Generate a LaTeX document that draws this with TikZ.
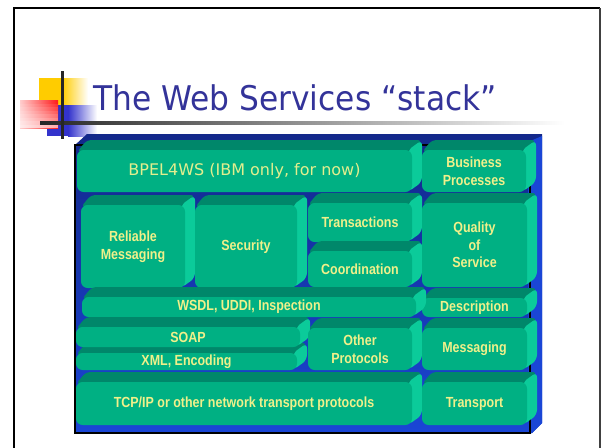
\documentclass[tikz,border=0pt]{standalone}
\usepackage{fontspec}
\setmainfont{DejaVu Sans}
\newfontfamily\lblfont[FakeStretch=0.85]{Liberation Sans}
\newfontfamily\ttlfont[FakeStretch=0.92]{DejaVu Sans}
\usetikzlibrary{fit}
\definecolor{frontc}{HTML}{00B083}
\definecolor{topc}{HTML}{00876A}
\definecolor{sidec}{HTML}{0BCB9A}
\definecolor{yell}{HTML}{F0F08A}
\definecolor{bpelc}{HTML}{E2EE8E}
\definecolor{navy}{HTML}{13288A}
\definecolor{brblue}{HTML}{1A46D6}
\definecolor{ttlc}{HTML}{333399}
\definecolor{logoyel}{HTML}{FFCC00}
\definecolor{logored}{HTML}{FF1A1A}
\definecolor{logoblu}{HTML}{3333CC}
\tikzset{
  frontbox/.style={fill=frontc, draw=none, inner sep=0pt, rounded corners=5pt},
  topface/.style={fill=topc, rounded corners=3pt},
  sideface/.style={fill=sidec, rounded corners=4pt},
  lbl/.style={text=yell, align=center, font=\lblfont\bfseries\fontsize{11}{13.2}\selectfont, inner sep=0pt},
  lblreg/.style={text=bpelc, font=\fontsize{12}{14}\selectfont, inner sep=0pt},
}
% #1 name, #2 x1, #3 y1, #4 x2, #5 y2, #6 text, #7 text style
\newcommand\blk[7]{%
  \fill[topface] (#2,#3+2) -- (#2+10,#3-10) -- (#4+10,#3-10) -- (#4,#3+2) -- cycle;
  \fill[sideface] (#4-4,#3) -- (#4+10,#3-10) -- (#4+10,#5-10) -- (#4-4,#5) -- cycle;
  \node[frontbox, fit={(#2,#3)(#4,#5)}] (#1) {};
  \node[#7] (#1-txt) at (#1.center) {#6};
}
\begin{document}
\begin{tikzpicture}[x=0.75pt, y=-0.75pt]
\useasboundingbox (0,0) rectangle (602,447);
\fill[white] (0,0) rectangle (602,447);
% slide frame
\draw[line width=2pt, black] (14,450) -- (14,8) -- (600,8);
\draw[line width=1.1pt, black!75] (600,8) -- (600,450);
% logo
\fill[logoyel] (39,78) rectangle (62,105);
\shade[left color=logoyel, right color=white] (62,78) rectangle (88,105);
\fill[logoblu] (47,105) rectangle (68,136);
\shade[left color=logoblu, right color=white] (68,105) rectangle (97,136);
\shade[left color=logored!22!white, right color=logored] (20,100) rectangle (58,128);
\foreach \i in {1,...,7} {
  \fill[white, fill opacity=0.09*\i] (20,100+3.5*\i) rectangle (58,103.5+3.5*\i);
}
\shade[left color=black!85, right color=white] (40,121.5) rectangle (565,124.5);
\fill[black!85] (60.5,71) rectangle (63.5,139);
% title
\node[text=ttlc, anchor=base, inner sep=0pt, font=\ttlfont\fontsize{25.5}{30}\selectfont] (title) at (295,110) {The Web Services “stack”};
% panel
\shade[top color=navy, bottom color=brblue] (75,145) -- (87,134) -- (542,134) -- (542,423) -- (532,433) -- (75,433) -- cycle;
\fill[brblue] (528,142) -- (542,136) -- (542,423) -- (532,433) -- (528,433) -- cycle;
\draw[line width=1.5pt, black] (75,145) rectangle (530,433);
% row 1
\blk{bpel}{77}{150}{412}{192}{BPEL4WS (IBM only, for now)}{lblreg}
\blk{bp}{422}{150}{526}{192}{Business\\Processes}{lbl}
% row 2
\blk{rm}{81}{205}{185}{288}{Reliable\\Messaging}{lbl}
\blk{sec}{195}{205}{297}{288}{Security}{lbl}
\blk{trans}{308}{203}{412}{242}{Transactions}{lbl}
\blk{coord}{308}{251}{412}{287}{Coordination}{lbl}
\blk{qos}{422}{203}{527}{287}{Quality\\of\\Service}{lbl}
% row 3
\blk{desc}{422}{298}{527}{317}{Description}{lbl}
\blk{wsdl}{82}{297}{416}{317}{WSDL, UDDI, Inspection}{lbl}
% row 4
\blk{xml}{76}{353}{297}{370}{XML, Encoding}{lbl}
\blk{soap}{76}{327}{300}{347}{SOAP}{lbl}
\blk{other}{308}{328}{412}{370}{Other\\Protocols}{lbl}
\blk{msg}{422}{328}{527}{370}{Messaging}{lbl}
% row 5
\blk{tcp}{76}{382}{412}{425}{TCP/IP or other network transport protocols}{lbl}
\blk{trsp}{422}{382}{527}{425}{Transport}{lbl}
\end{tikzpicture}
\end{document}
